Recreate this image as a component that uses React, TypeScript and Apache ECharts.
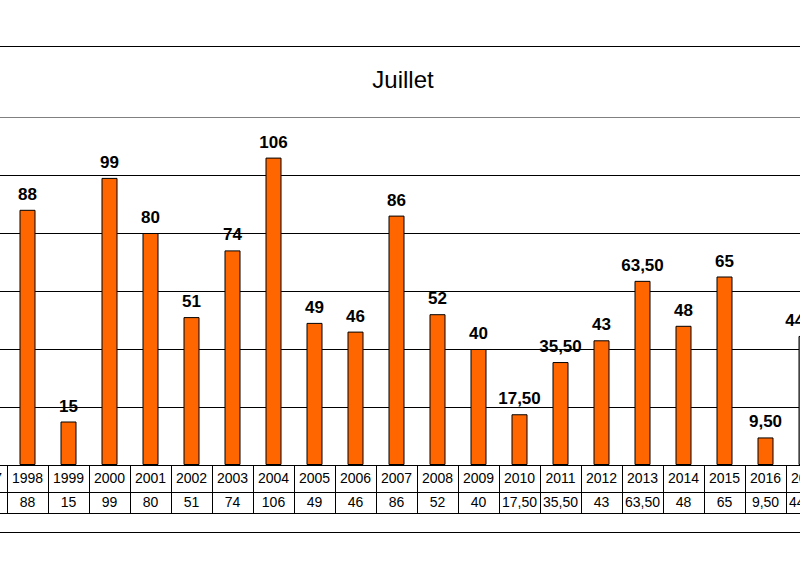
import React, { useEffect, useRef } from "react";
import * as echarts from "echarts";

const titleText = "Juillet";
const years = [
  "1997", "1998", "1999", "2000", "2001", "2002", "2003", "2004", "2005", "2006", "2007",
  "2008", "2009", "2010", "2011", "2012", "2013", "2014", "2015", "2016", "2017",
];
const values = [
  60, 88, 15, 99, 80, 51, 74, 106, 49, 46, 86,
  52, 40, 17.5, 35.5, 43, 63.5, 48, 65, 9.5, 44.5,
];
const yMin = 0;
const yMax = 120;
const yStep = 20;

const FONT = "'Liberation Sans', Arial, sans-serif";
const fmt = (v: number) => (Number.isInteger(v) ? String(v) : v.toFixed(2).replace(".", ","));

export default function App() {
  const ref = useRef<HTMLDivElement>(null);
  useEffect(() => {
    if (!ref.current) return;
    const chart = echarts.init(ref.current, undefined, { renderer: "svg" });
    const W = 960;
    chart.setOption({
      animation: false,
      backgroundColor: "#fff",
      title: {
        text: titleText,
        left: "center",
        top: 62,
        textStyle: { fontFamily: FONT, fontSize: 24, fontWeight: "normal", color: "#000" },
      },
      graphic: [
        {
          type: "rect",
          shape: { x: 10, y: 46.5, width: W - 20, height: 486 },
          style: { fill: "none", stroke: "#000", lineWidth: 1 },
          silent: true,
        },
      ],
      grid: { left: 43, right: W - 43 - 861, top: 117, bottom: 112, containLabel: false },
      xAxis: [
        {
          type: "category",
          data: years,
          position: "bottom",
          axisLine: { show: true, lineStyle: { color: "#000", width: 1 } },
          axisTick: { show: true, length: 48, inside: false, lineStyle: { color: "#000", width: 1 } },
          axisLabel: { fontFamily: FONT, fontSize: 14, color: "#000", margin: 6, interval: 0 },
          splitLine: { show: false },
        },
        {
          type: "category",
          data: years,
          position: "bottom",
          offset: 27,
          axisLine: { show: true, lineStyle: { color: "#000", width: 1 } },
          axisTick: { show: false },
          axisLabel: {
            fontFamily: FONT,
            fontSize: 14,
            color: "#000",
            margin: 3,
            interval: 0,
            formatter: (_v: string, i: number) => fmt(values[i]),
          },
        },
        {
          type: "category",
          data: years,
          position: "bottom",
          offset: 48,
          axisLine: { show: true, lineStyle: { color: "#000", width: 1 } },
          axisTick: { show: false },
          axisLabel: { show: false },
        },
      ],
      yAxis: {
        type: "value",
        min: yMin,
        max: yMax,
        interval: yStep,
        axisLabel: { show: false },
        axisLine: { show: false },
        axisTick: { show: false },
        splitLine: {
          show: true,
          lineStyle: {
            color: ["#000", "#000", "#000", "#000", "#000", "#000", "#808080"],
            width: 1,
          },
        },
      },
      series: [
        {
          type: "bar",
          data: values,
          barWidth: 16,
          itemStyle: { color: "#FF6600", borderColor: "#000", borderWidth: 1 },
          label: {
            show: true,
            position: "top",
            distance: 7,
            fontFamily: FONT,
            fontSize: 17,
            fontWeight: "bold",
            color: "#000",
            formatter: (p: any) => fmt(p.value),
          },
        },
      ],
    });
    return () => chart.dispose();
  }, []);
  return (
    <div style={{ position: "fixed", left: 0, top: 0, width: 800, height: 577, overflow: "hidden", background: "#fff" }}>
      <div ref={ref} style={{ position: "absolute", left: -77, top: 0, width: 960, height: 577 }} />
    </div>
  );
}
